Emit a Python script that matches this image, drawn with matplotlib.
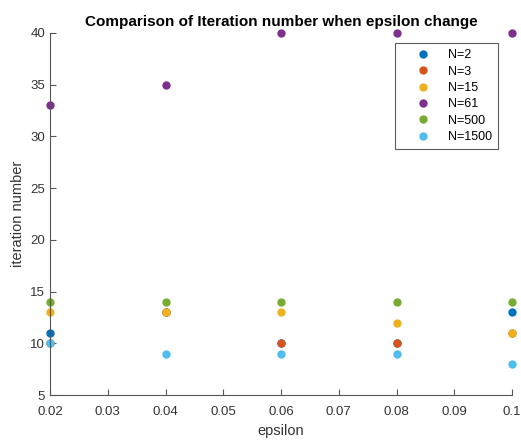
import matplotlib
matplotlib.use('Agg')
import matplotlib.pyplot as plt

# data
epsilon = [0.02, 0.04, 0.06, 0.08, 0.1]
labels = ['N=2', 'N=3', 'N=15', 'N=61', 'N=500', 'N=1500']
n2 = [11, 13, 10, 10, 13]
n3 = [10, 13, 10, 10, 11]
n15 = [13, 13, 13, 12, 11]
n61 = [33, 35, 40, 40, 40]
n500 = [14, 14, 14, 14, 14]
n1500 = [10, 9, 9, 9, 8]
series = [n2, n3, n15, n61, n500, n1500]
colors = ['#0072BD', '#D95319', '#EDB120', '#7E2F8E', '#77AC30', '#4DBEEE']

plt.rcParams['font.family'] = ['Liberation Sans', 'DejaVu Sans']

fig = plt.figure(figsize=(5.21, 4.44), dpi=100)
ax = fig.add_axes([0.096, 0.110, 0.887, 0.816])

for y, lab, c in zip(series, labels, colors):
    ax.plot(epsilon, y, 'o', color=c, markersize=5, label=lab, clip_on=False)

ax.set_xlim(0.02, 0.1)
ax.set_ylim(5, 40)
ax.set_xticks([0.02, 0.03, 0.04, 0.05, 0.06, 0.07, 0.08, 0.09, 0.1])
ax.set_xticklabels(['0.02', '0.03', '0.04', '0.05', '0.06', '0.07', '0.08', '0.09', '0.1'])
ax.set_yticks([5, 10, 15, 20, 25, 30, 35, 40])

ax.spines['top'].set_visible(False)
ax.spines['right'].set_visible(False)
for s in ['left', 'bottom']:
    ax.spines[s].set_color('#555555')
    ax.spines[s].set_linewidth(0.8)
ax.tick_params(direction='in', length=4, width=0.8, colors='#555555',
               labelcolor='#333333', labelsize=9.5)
ax.tick_params(axis='x', pad=8)

ax.set_xlabel('epsilon', fontsize=10.5, color='#333333', labelpad=4)
ax.set_ylabel('iteration number', fontsize=10.5, color='#333333', labelpad=4)
ax.set_title('Comparison of Iteration number when epsilon change',
             fontsize=11, fontweight='bold', pad=5)

leg = ax.legend(loc='upper right', bbox_to_anchor=(0.97, 0.972), borderaxespad=0,
                fontsize=9, frameon=True, fancybox=False, handlelength=3.4,
                handletextpad=0.3, labelspacing=0.35, borderpad=0.5)
leg.get_frame().set_edgecolor('#333333')
leg.get_frame().set_linewidth(0.8)

fig.savefig('out.png', dpi=100)
